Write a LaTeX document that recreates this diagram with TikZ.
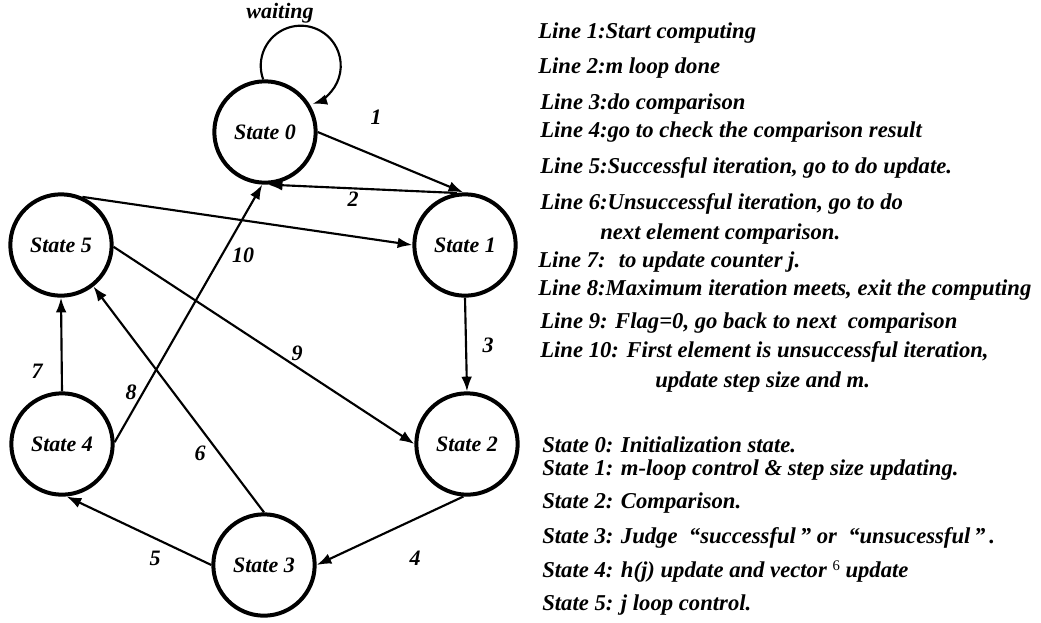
\documentclass[tikz,border=0pt]{standalone}
\usepackage{fontspec}
\setmainfont{Liberation Serif}
\usetikzlibrary{arrows.meta}

\begin{document}
\begin{tikzpicture}[x=0.75pt,y=-0.75pt,font=\fontsize{16.5}{19}\selectfont\bfseries\itshape]
\tikzstyle{state}=[circle,draw,line width=3pt,minimum size=76pt,inner sep=0pt]
\tikzstyle{trans}=[line width=1.6pt,-{Latex[length=11pt,width=8pt]}]
\tikzstyle{txt}=[anchor=base west,inner sep=0pt,font=\fontsize{17}{20}\selectfont\bfseries\itshape]
\useasboundingbox (0,0) rectangle (1041,622);
% the six states
\node[state] (s0) at (265,132) {State 0};
\node[state] (s1) at (465,245) {State 1};
\node[state] (s2) at (467,444) {State 2};
\node[state] (s3) at (264,565) {State 3};
\node[state] (s4) at (62,444) {State 4};
\node[state] (s5) at (61,245) {State 5};
% transitions
\draw[trans] (s0.92) arc[start angle=160,delta angle=273,radius=40];
\draw[trans] (s0.east) -- (s1.92);
\draw[trans] (s1.99) -- (s0.-87);
\draw[trans] (s4.2) -- (s0.-93);
\draw[trans] (s5.66) -- (s1.west);
\draw[trans] (s5.-2) -- (s2.west);
\draw[trans] (s1.south) -- (s2.north);
\draw[trans] (s2.-94) -- (s3.east);
\draw[trans] (s3.west) -- (s4.-85);
\draw[trans] (s3.north) -- (s5.-52);
\draw[trans] (s4.north) -- (s5.south);
% transition numbers
\node (wait) at (280,13) {waiting};
\node (n1) at (376,117) {1};
\node (n2) at (353,199) {2};
\node (n3) at (488,345) {3};
\node (n4) at (415,558) {4};
\node (n5) at (155,558) {5};
\node (n6) at (200,453) {6};
\node (n7) at (37,371) {7};
\node (n8) at (131,392) {8};
\node (n9) at (297,353) {9};
\node (n10) at (243,255) {10};
% legend
\node[txt] (l1) at (538,38) {Line 1:Start computing};
\node[txt] (l2) at (538,73) {Line 2:m loop done};
\node[txt] (l3) at (540,109) {Line 3:do comparison};
\node[txt] (l4) at (540,137) {Line 4:go to check the comparison result};
\node[txt] (l5) at (540,173) {Line 5:Successful iteration, go to do update.};
\node[txt] (l6) at (540,209) {Line 6:Unsuccessful iteration, go to do};
\node[txt] (l6b) at (600,239) {next element comparison.};
\node[txt] (l7) at (538,267) {Line 7: \ to update counter j.};
\node[txt] (l8) at (538,295) {Line 8:Maximum iteration meets, exit the computing};
\node[txt] (l9) at (540,328) {Line 9: Flag=0, go back to next \ comparison};
\node[txt] (l10) at (540,357) {Line 10: First element is unsuccessful iteration,};
\node[txt] (l10b) at (655,387) {update step size and m.};
\node[txt] (d0) at (542,452) {State 0: Initialization state.};
\node[txt] (d1) at (542,475) {State 1: m-loop control \& step size updating.};
\node[txt] (d2) at (542,508) {State 2: Comparison.};
\node[txt] (d3) at (542,543) {State 3: Judge \ “successful\,” or \ “unsucessful\,”\,.};
\node[txt] (d4) at (542,577) {State 4: h(j) update and vector {\mdseries\upshape\raisebox{5pt}{\fontsize{11}{11}\selectfont 6}} update};
\node[txt] (d5) at (542,610) {State 5: j loop control.};
\end{tikzpicture}
\end{document}
